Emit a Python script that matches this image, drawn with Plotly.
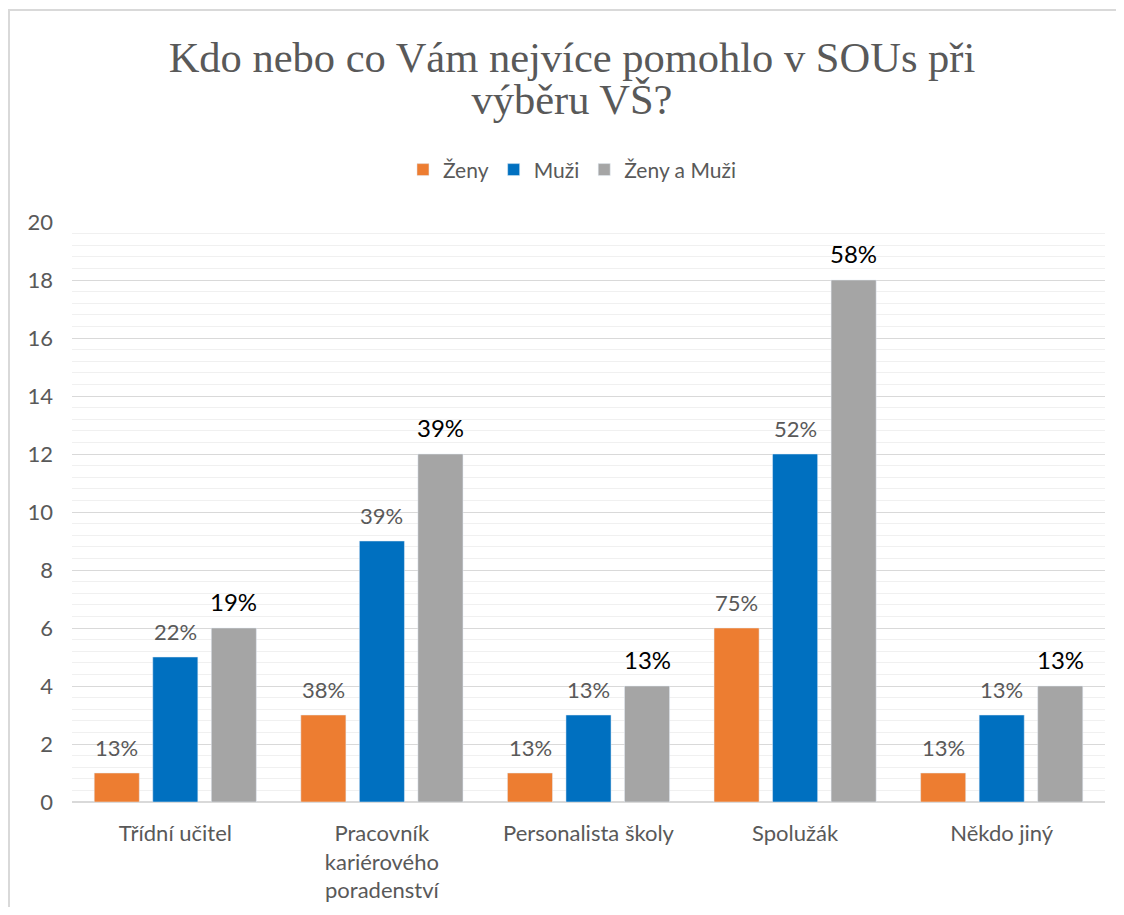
import plotly.graph_objects as go

categories = ["Třídní učitel", "Pracovník<br>kariérového<br>poradenství", "Personalista školy", "Spolužák", "Někdo jiný"]
zeny = [1, 3, 1, 6, 1]
muzi = [5, 9, 3, 12, 3]
oboje = [6, 12, 4, 18, 4]
zeny_pct = ["13%", "38%", "13%", "75%", "13%"]
muzi_pct = ["22%", "39%", "13%", "52%", "13%"]
oboje_pct = ["19%", "39%", "13%", "58%", "13%"]

font_main = "Lato, 'Open Sans', sans-serif"

series = [
    ("Ženy", zeny, zeny_pct, "#ED7D31", "#595959", 22),
    ("Muži", muzi, muzi_pct, "#0070C0", "#595959", 22),
    ("Ženy a Muži", oboje, oboje_pct, "#A5A5A5", "#000000", 24),
]

fig = go.Figure()
bar_step = 58.5  # px between bars of one group
for i, (name, vals, labels, color, tcolor, tsize) in enumerate(series):
    fig.add_trace(go.Bar(name=name, x=categories, y=vals, marker=dict(color=color)))
    # percentage labels above the bars
    for cat, v, lab in zip(categories, vals, labels):
        fig.add_annotation(x=cat, y=v, text=lab, showarrow=False,
                           xanchor="center", yanchor="bottom",
                           xshift=(i - 1) * bar_step, yshift=10,
                           font=dict(family=font_main, size=tsize, color=tcolor))

# outer frame like the Excel chart border
fig.add_shape(type="rect", xref="paper", yref="paper",
              x0=-0.061, x1=1.05, y0=-0.3, y1=1.3655,
              line=dict(color="#d9d9d9", width=2), layer="below")

# tighter line spacing for the title: small base size, big spans
title_lines = ["Kdo nebo co Vám nejvíce pomohlo v SOUs při", "výběru VŠ?"]
title_text = "<br>".join("<span style='font-size:42.5px'>%s</span>" % t for t in title_lines)

fig.update_layout(
    width=1108, height=899,
    margin=dict(l=64, r=11, t=214, b=105),
    paper_bgcolor="white", plot_bgcolor="white",
    barmode="group", bargap=0.15, bargroupgap=0.23,
    title=dict(text=title_text,
               x=0.509, xanchor="center", y=0.929, yanchor="middle",
               font=dict(family="'Liberation Serif', 'Times New Roman', serif", size=32.5, color="#595959")),
    legend=dict(orientation="h", x=0.484, xanchor="center", y=1.0897, yanchor="middle",
                font=dict(family=font_main, size=21, color="#595959"),
                itemwidth=30, traceorder="normal"),
    font=dict(family=font_main, color="#595959"),
    xaxis=dict(showgrid=False, showline=False, ticks="", tickfont=dict(size=22, color="#595959"),
               ticklabelstandoff=16, automargin=False),
    yaxis=dict(range=[0, 20], dtick=2, showgrid=True, gridcolor="#d9d9d9", gridwidth=1,
               zeroline=True, zerolinecolor="#d9d9d9", zerolinewidth=2,
               showline=False, ticks="", tickfont=dict(size=22, color="#595959"),
               ticklabelstandoff=18, automargin=False,
               minor=dict(dtick=0.4, showgrid=True, gridcolor="#f0f0f0", gridwidth=1)),
)

fig.write_html("out.html")
